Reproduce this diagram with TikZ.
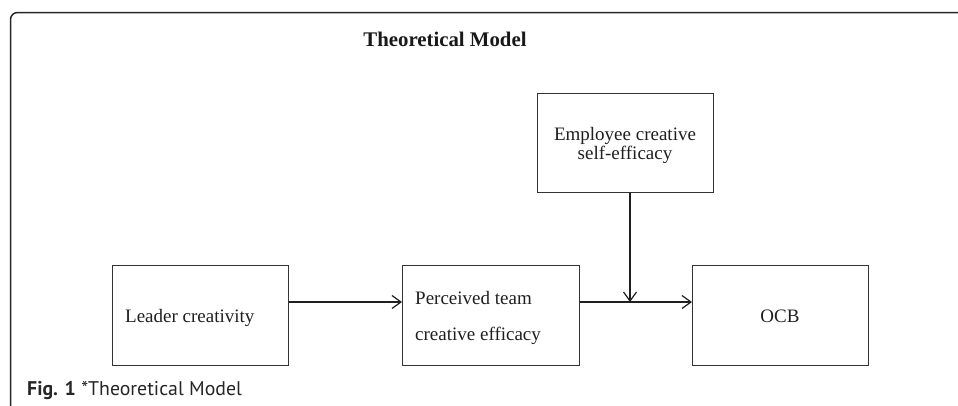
\documentclass[tikz,border=0pt]{standalone}
\usepackage{fontspec}
\setmainfont{Liberation Serif}
\newfontfamily\capfont{PT Sans}
\usetikzlibrary{arrows.meta}
\begin{document}
\begin{tikzpicture}[x=1pt,y=-1pt,
  boxstyle/.style={draw=black!80,line width=1pt,inner sep=0pt,anchor=north west},
  txt/.style={inner sep=0pt,font=\fontsize{19}{22}\selectfont,text=black!88},
  conn/.style={line width=1.3pt,draw=black!88,-{Straight Barb[length=9pt,width=13pt,line width=1.2pt]}}]
\useasboundingbox (0,0) rectangle (958,405);
% frame
\draw[line width=1.5pt,black!85,rounded corners=7pt] (10.5,410) -- (10.5,12.5) -- (965,12.5);
% title
\node[inner sep=0pt,anchor=base,font=\fontsize{20.8}{24}\selectfont\bfseries,text=black!90] (title) at (445,46) {Theoretical Model};
% boxes
\node[boxstyle,minimum width=176pt,minimum height=100pt] (lead) at (112,265) {};
\node[boxstyle,minimum width=177pt,minimum height=100pt] (perc) at (402,265) {};
\node[boxstyle,minimum width=176pt,minimum height=100pt] (ocb) at (692,265) {};
\node[boxstyle,minimum width=176pt,minimum height=99pt] (emp) at (537,93) {};
% texts
\node[txt,anchor=base west] (leadt) at (125,322) {Leader creativity};
\node[txt,anchor=base west] (perct1) at (415,304) {Perceived team};
\node[txt,anchor=base west] (perct2) at (415,340) {creative efficacy};
\node[txt,anchor=base] (ocbt) at (780,322) {OCB};
\node[txt,anchor=base] (empt1) at (625,140) {Employee creative};
\node[txt,anchor=base] (empt2) at (625,159) {self-efficacy};
% connectors
\coordinate (mid) at (630,302);
\draw[conn] (lead.east |- mid) -- (perc.west |- mid);
\draw[conn] (perc.east |- mid) -- (ocb.west |- mid);
\draw[conn] (emp.south -| mid) -- (mid);
% caption
\node[inner sep=0pt,anchor=base west,font=\capfont\fontsize{19.8}{23}\selectfont,text=black!85] (cap) at (27,395) {\textbf{Fig. 1} *Theoretical Model};
\end{tikzpicture}
\end{document}
